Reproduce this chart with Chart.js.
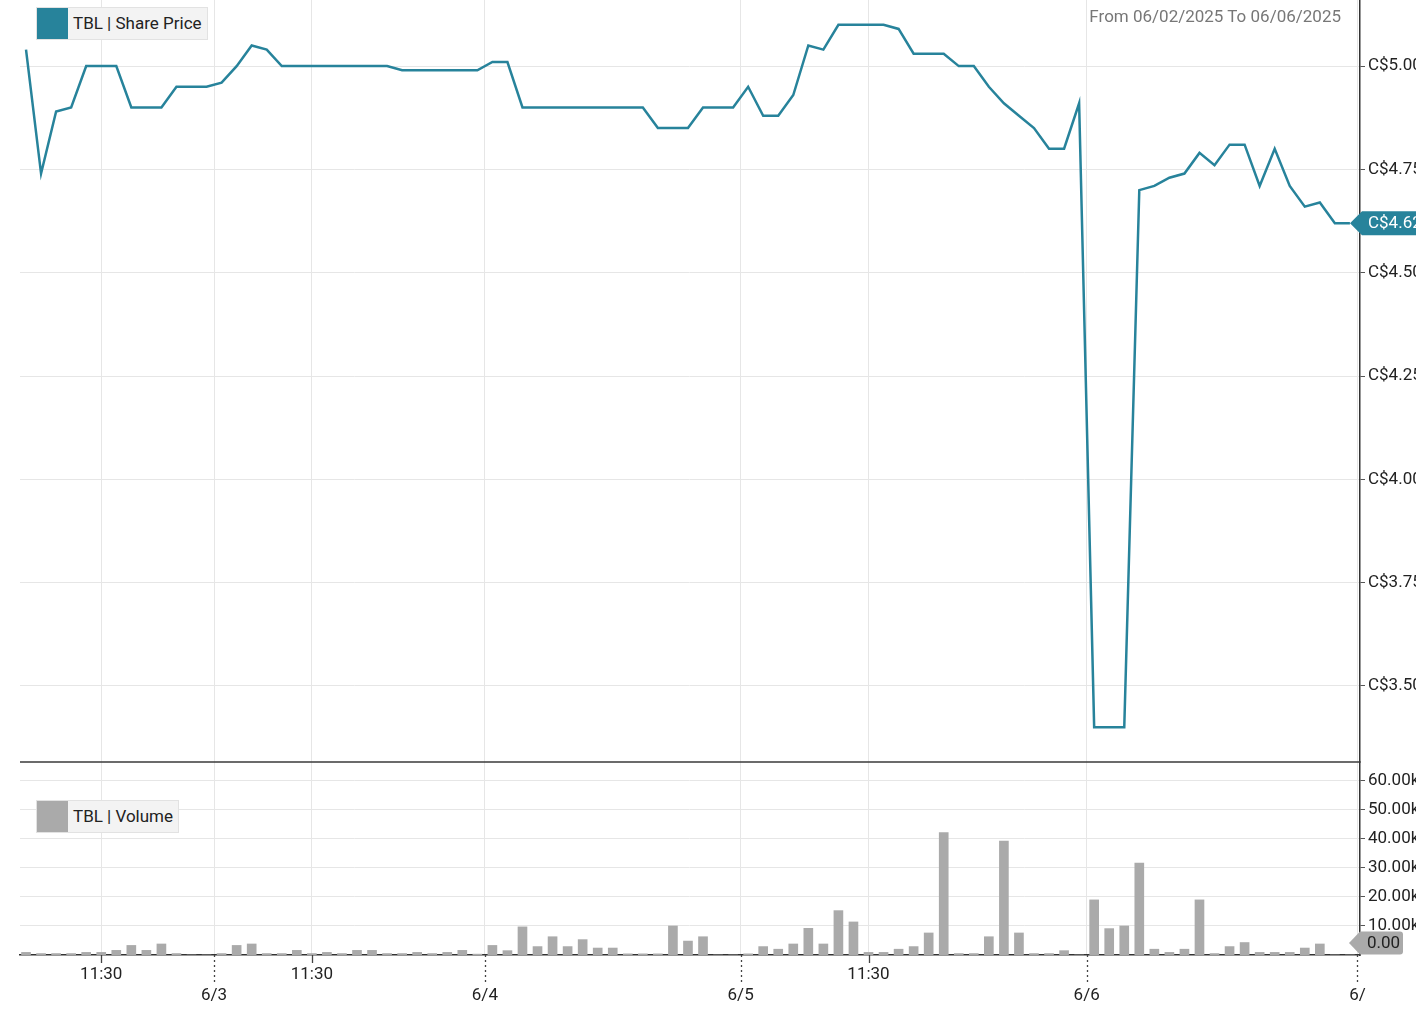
<!DOCTYPE html>
<html>
<head>
<meta charset="utf-8">
<script src="https://cdn.jsdelivr.net/npm/chart.js@4/dist/chart.umd.min.js"></script>
<style>
body{margin:0;background:#fff;overflow:hidden;font-family:Roboto,"Open Sans",sans-serif;}
#wrap{position:relative;width:1416px;height:1025px;overflow:hidden;}
.legend{position:absolute;display:flex;height:31px;border:1px solid #e2e2e2;background:#f3f3f3;}
.legend .sw{width:31px;height:31px;}
.legend .lbl{padding:0 5px;line-height:31px;font-size:17px;color:#222;}
#range{position:absolute;right:75px;top:6px;font-size:17px;color:#777;}
</style>
</head>
<body>
<div id="wrap">
<canvas id="chart" width="1416" height="1025"></canvas>
<div class="legend" style="left:36px;top:7px"><span class="sw" style="background:#27839b"></span><span class="lbl">TBL | Share Price</span></div>
<div class="legend" style="left:36px;top:800px"><span class="sw" style="background:#aaaaaa"></span><span class="lbl">TBL | Volume</span></div>
<div id="range">From 06/02/2025 To 06/06/2025</div>
</div>
<script>

// one entry per intraday bar, 6/2 .. 6/6
const price = [
5.04,4.74,4.89,4.90,5.00,5.00,5.00,4.90,4.90,4.90,4.95,4.95,4.95,
4.96,5.00,5.05,5.04,5.00,5.00,5.00,5.00,5.00,5.00,5.00,5.00,4.99,4.99,4.99,4.99,4.99,4.99,
5.01,5.01,4.90,4.90,4.90,4.90,4.90,4.90,4.90,4.90,4.90,4.85,4.85,4.85,4.90,4.90,4.90,
4.95,4.88,4.88,4.93,5.05,5.04,5.10,5.10,5.10,5.10,5.09,5.03,5.03,5.03,5.00,5.00,4.95,4.91,4.88,4.85,4.80,4.80,4.91,
3.40,3.40,3.40,4.70,4.71,4.73,4.74,4.79,4.76,4.81,4.81,4.71,4.80,4.71,4.66,4.67,4.62,4.62
];

// volume in thousands of shares
const volumeK = [
0.9,0.5,0.5,0.5,0.9,0.9,1.6,3.3,1.6,3.8,0.5,0,0,
0.5,3.3,3.8,0.5,0.5,1.6,0.5,0.9,0.5,1.6,1.6,0.5,0.5,0.9,0.5,0.9,1.6,0.3,
3.3,1.5,9.7,2.9,6.3,2.9,5.3,2.4,2.4,0.4,0.4,0.4,10.0,4.8,6.3,0,0,
0.4,2.9,2.0,3.8,9.2,3.8,15.3,11.4,0.9,0.9,2.0,2.9,7.6,42.2,0.5,0.5,6.3,39.3,7.6,0.5,0.5,1.5,0,
19.0,9.1,10.0,31.7,2.0,0.9,2.0,19.0,0.5,2.9,4.3,0.9,0.9,0.9,2.4,3.8,0,0
];

const barsPerDay = [13,18,17,23,18];
const dayLabels = ["6/3","6/4","6/5","6/6","6/"];
const midTickBars = [5,19,56];
const midTickLabel = "11:30";

const priceTicks = [3.50,3.75,4.00,4.25,4.50,4.75,5.00];
const volumeTicks = [10,20,30,40,50,60];

const TEAL = "#27839b";
const GREY = "#aaaaaa";

function buildXTicks(){

const ticks = midTickBars.map(i => ({value:i, label:midTickLabel}));

let count = 0;

barsPerDay.forEach((n,d) => {
count += n;
ticks.push({value:count-0.5, label:dayLabels[d], day:true});
});

return ticks.sort((a,b) => a.value-b.value);

}

const xTicks = buildXTicks();

function noPad(scale){
scale.paddingTop = 0;
scale.paddingBottom = 0;
scale.paddingLeft = 0;
scale.paddingRight = 0;
}

const overlay = {

id:"overlay",

afterDraw(chart){

const ctx = chart.ctx;
const area = chart.chartArea;
const xs = chart.scales.x;
const yp = chart.scales.y;
const yv = chart.scales.yv;

ctx.save();

ctx.strokeStyle = "#3a3a3a";
ctx.lineWidth = 1.5;
ctx.beginPath();
ctx.moveTo(area.left, yp.bottom);
ctx.lineTo(area.right, yp.bottom);
ctx.stroke();

ctx.lineWidth = 1.3;
ctx.strokeStyle = "#444";
xTicks.forEach(t => {
const px = Math.round(xs.getPixelForValue(t.value)) + 0.5;
ctx.beginPath();
if(t.day){
ctx.setLineDash([2,3]);
ctx.moveTo(px, area.bottom);
ctx.lineTo(px, area.bottom + 30);
}else{
ctx.setLineDash([]);
ctx.moveTo(px, area.bottom);
ctx.lineTo(px, area.bottom + 8);
}
ctx.stroke();
});
ctx.setLineDash([]);

// last price tag
const last = price[price.length-1];
let y = yp.getPixelForValue(last);
ctx.fillStyle = TEAL;
ctx.beginPath();
ctx.moveTo(area.right - 10, y);
ctx.lineTo(area.right + 2, y - 12);
ctx.lineTo(area.right + 80, y - 12);
ctx.lineTo(area.right + 80, y + 12);
ctx.lineTo(area.right + 2, y + 12);
ctx.closePath();
ctx.fill();
ctx.fillStyle = "#fff";
ctx.font = "17px Roboto";
ctx.textBaseline = "middle";
ctx.textAlign = "left";
ctx.fillText("C$" + last.toFixed(2), area.right + 8, y + 1);

// last volume tag
const lastV = volumeK[volumeK.length-1];
y = Math.min(yv.getPixelForValue(lastV), yv.bottom - 12);
ctx.fillStyle = GREY;
ctx.beginPath();
ctx.moveTo(area.right - 11, y);
ctx.lineTo(area.right, y - 11.5);
ctx.lineTo(area.right + 40, y - 11.5);
ctx.quadraticCurveTo(area.right + 43, y - 11.5, area.right + 43, y - 8.5);
ctx.lineTo(area.right + 43, y + 8.5);
ctx.quadraticCurveTo(area.right + 43, y + 11.5, area.right + 40, y + 11.5);
ctx.lineTo(area.right, y + 11.5);
ctx.closePath();
ctx.fill();
ctx.fillStyle = "#222";
ctx.fillText(lastV.toFixed(2), area.right + 7, y + 1);

ctx.restore();

}

};

Chart.defaults.font.family = "Roboto";
Chart.defaults.font.size = 17;
Chart.defaults.color = "#222";

const ctx = document.getElementById("chart").getContext("2d");

new Chart(ctx,{

type:"bar",

data:{
datasets:[
{
type:"line",
label:"TBL | Share Price",
data:price.map((v,i) => ({x:i, y:v})),
yAxisID:"y",
borderColor:TEAL,
borderWidth:2.5,
pointRadius:0,
tension:0,
order:0
},
{
type:"bar",
label:"TBL | Volume",
data:volumeK.map((v,i) => ({x:i, y:v})),
yAxisID:"yv",
backgroundColor:GREY,
barThickness:9,
order:1
}
]
},

options:{
responsive:false,
animation:false,
layout:{
autoPadding:false,
padding:{left:20, top:0, right:0, bottom:0}
},
plugins:{
legend:{display:false},
tooltip:{enabled:false}
},
scales:{
x:{
type:"linear",
offset:false,
min:-0.4,
max:88.67,
afterBuildTicks(scale){
scale.ticks = xTicks.map(t => ({value:t.value}));
},
afterFit(scale){
scale.height = 70;
noPad(scale);
},
ticks:{
autoSkip:false,
maxRotation:0,
padding:9,
font:{size:17, lineHeight:1.24},
callback(value){
const t = xTicks.find(k => k.value === value);
if(!t) return "";
return t.day ? ["", t.label] : t.label;
}
},
grid:{
color:"#e6e6e6",
offset:false,
drawTicks:false
},
border:{color:"#333", width:1.5}
},
y:{
type:"linear",
position:"right",
stack:"panels",
stackWeight:762,
min:3.316,
max:5.16,
afterBuildTicks(scale){
scale.ticks = priceTicks.map(v => ({value:v}));
},
afterFit(scale){
scale.width = 56;
noPad(scale);
},
ticks:{
autoSkip:false,
padding:3,
callback(v){ return "C$" + Number(v).toFixed(2); }
},
grid:{
color:"#e6e6e6",
tickColor:"#555",
tickLength:5
},
border:{color:"#333", width:1.5}
},
yv:{
type:"linear",
position:"right",
stack:"panels",
stackWeight:193,
min:0,
max:66.55,
afterBuildTicks(scale){
scale.ticks = volumeTicks.map(v => ({value:v}));
},
afterFit(scale){
scale.width = 56;
noPad(scale);
},
ticks:{
autoSkip:false,
padding:3,
callback(v){ return Number(v).toFixed(2) + "k"; }
},
grid:{
color:"#e6e6e6",
tickColor:"#555",
tickLength:5
},
border:{color:"#333", width:1.5}
}
}
},

plugins:[overlay]

});

</script>
</body>
</html>
